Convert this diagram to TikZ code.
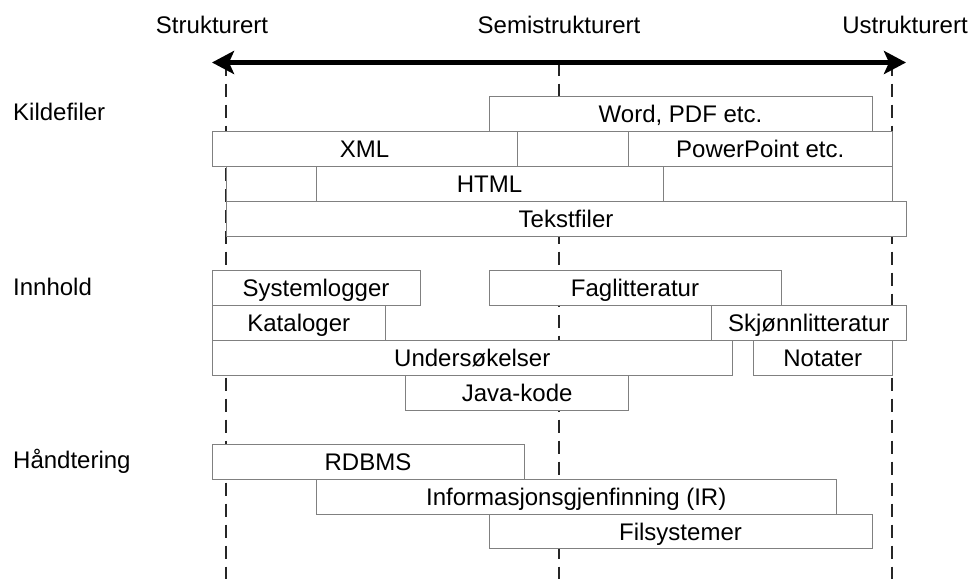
\documentclass[tikz,border=0pt]{standalone}
\usepackage{fontspec}
\setmainfont{Liberation Sans}
\usetikzlibrary{arrows.meta}

% box from corner (x1,y1) to corner (x2,y2), y counted downwards
\newcommand\bx[6]{%
  \node[box, minimum width={(#4)-(#2)}, minimum height={(#5)-(#3)}]
    (#1) at ({((#2)+(#4))/2},{((#3)+(#5))/2}) {#6};}

\begin{document}
\begin{tikzpicture}[x=1pt, y=-1pt,
  txt/.style={font=\fontsize{24}{28}\selectfont, inner sep=0pt},
  box/.style={txt, draw=black!50, line width=1pt, fill=white,
    text height=17.2pt, text depth=0pt, rectangle},
  guide/.style={line width=2pt, black!85, dash pattern=on 13pt off 8pt},
  axis/.style={line width=4.5pt, {Stealth[length=22pt, width=23pt, inset=5pt]}-{Stealth[length=22pt, width=23pt, inset=5pt]}}
]
\useasboundingbox (0,0) rectangle (973,579);

% scale labels
\node[txt, anchor=base] (lstr) at (212,33.3) {Strukturert};
\node[txt, anchor=base] (lsemi) at (559,33.3) {Semistrukturert};
\node[txt, anchor=base] (lustr) at (905,33.3) {Ustrukturert};

% dashed guide lines
\coordinate (gLt) at (225.5,62.5); \coordinate (gLb) at (225.5,579);
\coordinate (gMt) at (558.7,62.5); \coordinate (gMb) at (558.7,579);
\coordinate (gRt) at (892,62.5);   \coordinate (gRb) at (892,579);
\draw[guide] (gLt) -- (gLb);
\draw[guide] (gMt) -- (gMb);
\draw[guide] (gRt) -- (gRb);

% scale axis
\coordinate (aL) at (212,62.5);
\coordinate (aR) at (906,62.5);
\draw[axis] (aL) -- (aR);

% section labels
\node[txt, anchor=base west] (kilde) at (13,120.5) {Kildefiler};
\node[txt, anchor=base west] (innhold) at (13,295) {Innhold};
\node[txt, anchor=base west] (handt) at (13,468.5) {Håndtering};

% Kildefiler
\bx{word}{489}{96.8}{872}{131.6}{Word, PDF etc.}
\bx{xml}{212}{131.6}{517}{166.4}{XML}
\bx{gap1}{517}{131.6}{628.5}{166.4}{}
\bx{ppt}{628.5}{131.6}{892}{166.4}{PowerPoint etc.}
\bx{gap2}{226}{166.4}{316}{201.2}{}
\bx{html}{316}{166.4}{663}{201.2}{HTML}
\bx{gap3}{663}{166.4}{892}{201.2}{}
\bx{tekst}{226}{201.2}{906}{236}{Tekstfiler}

% Innhold
\bx{syslog}{212}{270.8}{420}{305.6}{Systemlogger}
\bx{fag}{489}{270.8}{781}{305.6}{Faglitteratur}
\bx{kat}{212}{305.6}{385.5}{340.4}{Kataloger}
\bx{skjonn}{711.5}{305.6}{906}{340.4}{Skjønnlitteratur}
\bx{unders}{212}{340.4}{732.5}{375.2}{Undersøkelser}
\bx{notat}{753.5}{340.4}{892}{375.2}{Notater}
\bx{java}{405.8}{375.2}{628.5}{410}{Java-kode}

% Håndtering
\bx{rdbms}{212}{444.4}{524}{479.2}{RDBMS}
\bx{ir}{316}{479.2}{836.5}{514}{Informasjonsgjenfinning (IR)}
\bx{fil}{489}{514}{872}{548.8}{Filsystemer}
\end{tikzpicture}
\end{document}
